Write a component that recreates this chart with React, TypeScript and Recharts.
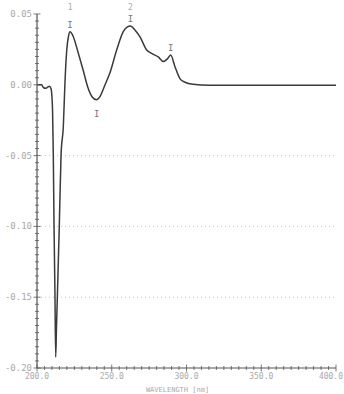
import { LineChart, Line, XAxis, YAxis, ReferenceLine, ReferenceDot } from "recharts"

// spectrum (nm, absorbance)
const wavelengths = [
  200, 203.1, 204.4, 206, 207.4, 208.2, 209.4, 210.4, 210.9, 211.4, 212, 212.5, 213, 213.7, 214.9, 216.1,
  217.6, 218.7, 219.9, 221.1, 222.1, 224.1, 227.4, 230.8, 234.1, 236.8, 239.9, 242.1, 245.5, 248.8, 253.3,
  257.7, 260.2, 262.5, 265.5, 268.9, 273.4, 276.7, 281.1, 284.5, 287.2, 289.4, 292.3, 295.7, 299, 304.3,
  315.7, 330, 350, 370, 390, 400,
]
const absorbance = [
  0.0, 0.0, -0.0021, -0.0025, -0.0014, -0.001, -0.0028, -0.0176, -0.0493, -0.1, -0.1465, -0.1923, -0.1725,
  -0.1465, -0.1, -0.0493, -0.0296, 0.0014, 0.0246, 0.0345, 0.0375, 0.0345, 0.0232, 0.0106, -0.0021, -0.0084,
  -0.0106, -0.0084, 0.0, 0.0085, 0.0246, 0.0375, 0.0408, 0.0415, 0.0387, 0.0338, 0.0246, 0.0222, 0.0197,
  0.0165, 0.0183, 0.0211, 0.0128, 0.0042, 0.0018, 0.0004, -0.0003, -0.0004, -0.0003, -0.0004, -0.0003, -0.0003,
]

// peak picks marked on the plot
const markerWavelengths = [222.1, 239.9, 262.5, 289.4]
const markerValues = [0.0375, -0.0106, 0.0415, 0.0211]
const markerBelow = [false, true, false, false]
const markerNumbers = ["1", "", "2", ""]

const yTicks = Array.from({ length: 51 }, (_, i) => Math.round((-0.2 + i * 0.005) * 1000) / 1000)
const xTicks = Array.from({ length: 41 }, (_, i) => 200 + i * 5)
const gridValues = [-0.05, -0.1, -0.15]

const data = wavelengths.map((wl, i) => ({ wl, abs: absorbance[i] }))

const AXIS = "#555"
const LABEL = "#a9a9a9"
const MONO = "'DejaVu Sans Mono', monospace"

const YTick = (props: any) => {
  const { x, y, payload, showLabel } = props
  const major = Math.round(payload.value * 1000) % 50 === 0
  const len = major ? 3.5 : 2
  return (
    <g>
      <line x1={x - len} x2={x + len} y1={y} y2={y} stroke={AXIS} strokeWidth={0.8} />
      {showLabel && major && (
        <text x={x - 5} y={y + 3} textAnchor="end" fontSize={9} fontFamily={MONO} fill={LABEL}>
          {payload.value.toFixed(2)}
        </text>
      )}
    </g>
  )
}

const XTick = (props: any) => {
  const { x, y, payload, showLabel } = props
  const major = payload.value % 50 === 0
  const last = payload.value === 400
  const len = major ? 3.5 : 2
  return (
    <g>
      <line x1={x} x2={x} y1={y - len} y2={y + len} stroke={AXIS} strokeWidth={0.8} />
      {showLabel && major && (
        <text
          x={last ? x + 7 : x}
          y={y + 11}
          textAnchor={last ? "end" : "middle"}
          fontSize={8}
          fontFamily={MONO}
          fill={LABEL}
        >
          {payload.value.toFixed(1)}
        </text>
      )}
    </g>
  )
}

const Marker = (props: any) => {
  const { cx, cy, below, num } = props
  const ty = below ? cy + 17 : cy - 4
  return (
    <g fontFamily={MONO}>
      <text x={cx} y={ty} textAnchor="middle" fontSize={9} fill="#777">I</text>
      {num && (
        <text x={cx} y={10} textAnchor="middle" fontSize={8} fill="#aaa">{num}</text>
      )}
    </g>
  )
}

export default function App() {
  return (
    <div style={{ position: "absolute", left: 0, top: 0, width: 344, height: 394, background: "#fff" }}>
      <LineChart width={344} height={394} data={data} margin={{ top: 14, right: 8, bottom: 0, left: 0 }}>
        <XAxis
          xAxisId="b"
          dataKey="wl"
          type="number"
          domain={[200, 400]}
          ticks={xTicks}
          interval={0}
          height={26}
          tickSize={0}
          tickMargin={0}
          stroke={AXIS}
          strokeWidth={1.2}
          tick={<XTick showLabel />}
          label={{
            value: "WAVELENGTH [nm]",
            position: "insideBottom",
            offset: 2,
            dx: -9,
            style: { fontSize: 7, fontFamily: MONO, fill: LABEL },
          }}
        />
        <XAxis
          xAxisId="t"
          orientation="top"
          type="number"
          domain={[200, 400]}
          ticks={xTicks}
          interval={0}
          height={0}
          tickSize={0}
          tickMargin={0}
          stroke={AXIS}
          strokeWidth={1.2}
          tick={<XTick />}
        />
        <YAxis
          yAxisId="l"
          type="number"
          domain={[-0.2, 0.05]}
          ticks={yTicks}
          interval={0}
          width={37}
          tickSize={0}
          tickMargin={0}
          stroke={AXIS}
          strokeWidth={1.2}
          tick={<YTick showLabel />}
        />
        <YAxis
          yAxisId="r"
          orientation="right"
          type="number"
          domain={[-0.2, 0.05]}
          ticks={yTicks}
          interval={0}
          width={0}
          tickSize={0}
          tickMargin={0}
          stroke={AXIS}
          strokeWidth={1.2}
          tick={<YTick />}
        />
        {gridValues.map((v) => (
          <ReferenceLine key={v} xAxisId="b" yAxisId="l" y={v} stroke="#c4c4c4" strokeDasharray="1 3" />
        ))}
        <Line
          xAxisId="b"
          yAxisId="l"
          type="monotone"
          dataKey="abs"
          stroke="#3a3a3a"
          strokeWidth={1.5}
          dot={false}
          isAnimationActive={false}
        />
        {markerWavelengths.map((wl, i) => (
          <ReferenceDot
            key={wl}
            xAxisId="b"
            yAxisId="l"
            x={wl}
            y={markerValues[i]}
            r={0}
            shape={(p: any) => <Marker {...p} below={markerBelow[i]} num={markerNumbers[i]} />}
          />
        ))}
      </LineChart>
    </div>
  )
}
